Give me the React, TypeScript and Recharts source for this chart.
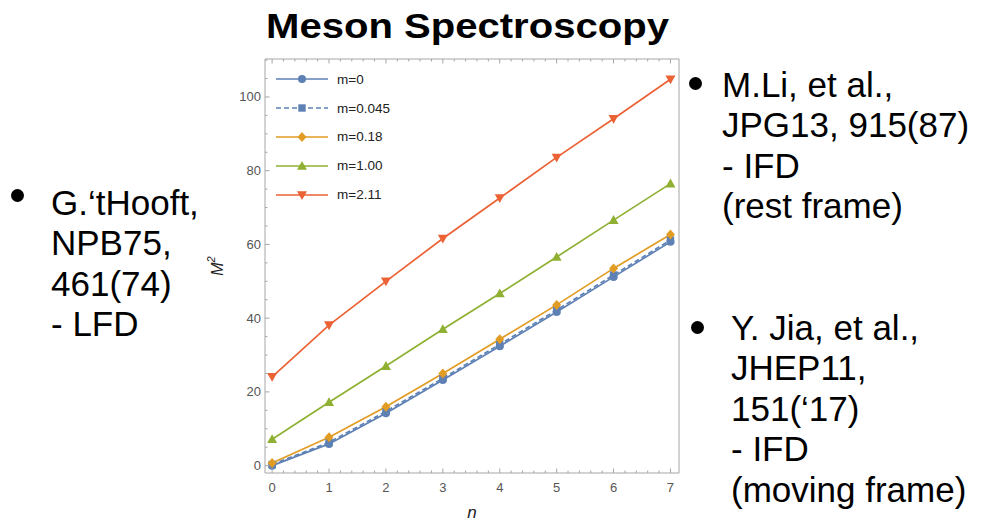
import { LineChart, Line, XAxis, YAxis } from "recharts"

// n (radial excitation) on x, M^2 on y
const nValues = [0, 1, 2, 3, 4, 5, 6, 7]
const m0 = [0.0, 5.9, 14.2, 23.2, 32.4, 41.7, 51.2, 60.7]
const m0045 = [0.3, 6.3, 14.7, 23.7, 32.9, 42.2, 51.7, 61.2]
const m018 = [0.7, 7.7, 16.0, 25.0, 34.3, 43.6, 53.5, 62.7]
const m100 = [7.15, 17.2, 27.0, 37.0, 46.7, 56.6, 66.6, 76.5]
const m211 = [24.1, 38.1, 50.0, 61.6, 72.6, 83.6, 94.1, 104.8]

const xMajorTicks = [0, 1, 2, 3, 4, 5, 6, 7]
const yMajorTicks = [0, 20, 40, 60, 80, 100]
// minor ticks every 0.2 on x and every 5 on y
const xTicks = Array.from({ length: 36 }, (_, i) => Math.round(i * 2) / 10)
const yTicks = Array.from({ length: 23 }, (_, i) => i * 5)

const leftNotes = ["G.\u2018tHooft,", "NPB75,", "461(74)", "- LFD"]
const rightTopNotes = ["M.Li, et al.,", "JPG13, 915(87)", "- IFD", "(rest frame)"]
const rightBottomNotes = ["Y. Jia, et al.,", "JHEP11,", "151(\u201817)", "- IFD", "(moving frame)"]

const series = [
  { key: "m0", name: "m=0", values: m0, color: "#5E81B5", shape: "circle", dashed: false },
  { key: "m0045", name: "m=0.045", values: m0045, color: "#5E81B5", shape: "square", dashed: true },
  { key: "m018", name: "m=0.18", values: m018, color: "#E19C24", shape: "diamond", dashed: false },
  { key: "m100", name: "m=1.00", values: m100, color: "#8FB032", shape: "up", dashed: false },
  { key: "m211", name: "m=2.11", values: m211, color: "#EB6235", shape: "down", dashed: false },
]

const data = nValues.map((n, i) => {
  const row: any = { n }
  series.forEach((s) => (row[s.key] = s.values[i]))
  return row
})

const FRAME = "#a6a6a6"
const TICK_TEXT = "#555"
const FONT = "'Liberation Sans', Arial, sans-serif"

const Marker = ({ shape, cx, cy, color }: any) => {
  if (shape === "circle") return <circle cx={cx} cy={cy} r={4} fill={color} />
  if (shape === "square") return <rect x={cx - 3.7} y={cy - 3.7} width={7.4} height={7.4} fill={color} />
  if (shape === "diamond")
    return <polygon points={`${cx},${cy - 5} ${cx + 4.5},${cy} ${cx},${cy + 5} ${cx - 4.5},${cy}`} fill={color} />
  if (shape === "up")
    return <polygon points={`${cx},${cy - 5} ${cx + 5},${cy + 3.8} ${cx - 5},${cy + 3.8}`} fill={color} />
  return <polygon points={`${cx - 5},${cy - 3.8} ${cx + 5},${cy - 3.8} ${cx},${cy + 5}`} fill={color} />
}

const isMajor = (v: number, majors: number[]) => majors.some((m) => Math.abs(m - v) < 1e-6)

const BottomTick = ({ x, y, payload }: any) => {
  const major = isMajor(payload.value, xMajorTicks)
  const axisY = y - 14
  return (
    <g>
      <line x1={x} x2={x} y1={axisY} y2={axisY - (major ? 4.5 : 2.5)} stroke={FRAME} />
      {major && (
        <text x={x} y={y} textAnchor="middle" dominantBaseline="central" fontSize={13} fill={TICK_TEXT} fontFamily={FONT}>
          {Math.round(payload.value)}
        </text>
      )}
    </g>
  )
}

const TopTick = ({ x, y, payload }: any) => {
  const major = isMajor(payload.value, xMajorTicks)
  return <line x1={x} x2={x} y1={y} y2={y + (major ? 4.5 : 2.5)} stroke={FRAME} />
}

const LeftTick = ({ x, y, payload }: any) => {
  const major = isMajor(payload.value, yMajorTicks)
  const axisX = x + 4
  return (
    <g>
      <line x1={axisX} x2={axisX + (major ? 4.5 : 2.5)} y1={y} y2={y} stroke={FRAME} />
      {major && (
        <text x={x} y={y} textAnchor="end" dominantBaseline="central" fontSize={13} fill={TICK_TEXT} fontFamily={FONT}>
          {payload.value}
        </text>
      )}
    </g>
  )
}

const RightTick = ({ x, y, payload }: any) => {
  const major = isMajor(payload.value, yMajorTicks)
  return <line x1={x} x2={x - (major ? 4.5 : 2.5)} y1={y} y2={y} stroke={FRAME} />
}

const Notes = ({ lines, left, top, bullet }: any) => (
  <>
    <div
      style={{
        position: "absolute",
        left: bullet[0] - 6.5,
        top: bullet[1] - 6.5,
        width: 13,
        height: 13,
        borderRadius: "50%",
        background: "#000",
      }}
    />
    <div
      style={{
        position: "absolute",
        left,
        top,
        fontFamily: FONT,
        fontSize: 35,
        lineHeight: "40.5px",
        color: "#000",
        whiteSpace: "nowrap",
      }}
    >
      {lines.map((l: string) => (
        <div key={l}>{l}</div>
      ))}
    </div>
  </>
)

export default function App() {
  return (
    <div style={{ position: "absolute", left: 0, top: 0, width: 989, height: 524, background: "#fff" }}>
      <LineChart width={989} height={524} data={data} margin={{ top: 58, right: 309, bottom: 21, left: 235 }}>
        <XAxis
          xAxisId={0}
          dataKey="n"
          type="number"
          domain={[-0.125, 7.15]}
          ticks={xTicks}
          interval={0}
          height={30}
          tickSize={0}
          tickMargin={14}
          tickLine={false}
          axisLine={{ stroke: FRAME }}
          tick={(p: any) => <BottomTick {...p} />}
          label={{
            content: ({ viewBox }: any) => (
              <text
                x={viewBox.x + viewBox.width / 2}
                y={viewBox.y + 45}
                textAnchor="middle"
                fontSize={17}
                fontStyle="italic"
                fontFamily={FONT}
                fill="#222"
              >
                n
              </text>
            ),
          }}
        />
        <XAxis
          xAxisId="top"
          orientation="top"
          dataKey="n"
          type="number"
          domain={[-0.125, 7.15]}
          ticks={xTicks}
          interval={0}
          height={1}
          tickSize={0}
          tickMargin={0}
          tickLine={false}
          axisLine={{ stroke: FRAME }}
          tick={(p: any) => <TopTick {...p} />}
        />
        <YAxis
          yAxisId={0}
          type="number"
          domain={[-2, 110.3]}
          ticks={yTicks}
          interval={0}
          width={30}
          tickSize={0}
          tickMargin={4}
          tickLine={false}
          axisLine={{ stroke: FRAME }}
          tick={(p: any) => <LeftTick {...p} />}
          label={{
            content: ({ viewBox }: any) => {
              const cx = viewBox.x - 18
              const cy = viewBox.y + viewBox.height / 2
              return (
                <text
                  transform={`rotate(-90 ${cx} ${cy})`}
                  x={cx}
                  y={cy}
                  textAnchor="middle"
                  dominantBaseline="central"
                  fontSize={16}
                  fontStyle="italic"
                  fontFamily={FONT}
                  fill="#222"
                >
                  M
                  <tspan dy={-6} fontSize={11}>
                    2
                  </tspan>
                </text>
              )
            },
          }}
        />
        <YAxis
          yAxisId="right"
          orientation="right"
          type="number"
          domain={[-2, 110.3]}
          ticks={yTicks}
          interval={0}
          width={1}
          tickSize={0}
          tickMargin={0}
          tickLine={false}
          axisLine={{ stroke: FRAME }}
          tick={(p: any) => <RightTick {...p} />}
        />
        {series.map((s) => (
          <Line
            key={s.key}
            type="linear"
            dataKey={s.key}
            name={s.name}
            stroke={s.color}
            strokeWidth={1.7}
            strokeDasharray={s.dashed ? "5 3" : undefined}
            dot={(p: any) => (
              <g key={`${s.key}-${p.index}`}>
                <Marker shape={s.shape} cx={p.cx} cy={p.cy} color={s.color} />
              </g>
            )}
            activeDot={false}
            isAnimationActive={false}
          />
        ))}
      </LineChart>

      {/* in-plot legend */}
      <div style={{ position: "absolute", left: 274, top: 65 }}>
        {series.map((s) => (
          <div key={s.key} style={{ display: "flex", alignItems: "center", height: 28.8 }}>
            <svg width={56} height={14}>
              <line
                x1={2}
                x2={54}
                y1={7}
                y2={7}
                stroke={s.color}
                strokeWidth={1.7}
                strokeDasharray={s.dashed ? "5 3" : undefined}
              />
              <Marker shape={s.shape} cx={28} cy={7} color={s.color} />
            </svg>
            <span style={{ marginLeft: 7, fontFamily: FONT, fontSize: 13.5, color: "#222" }}>{s.name}</span>
          </div>
        ))}
      </div>

      <svg style={{ position: "absolute", left: 0, top: 0 }} width={989} height={60}>
        <text
          x={266}
          y={38}
          textLength={403}
          lengthAdjust="spacingAndGlyphs"
          fontFamily={FONT}
          fontWeight="bold"
          fontSize={35}
          fill="#000"
        >
          Meson Spectroscopy
        </text>
      </svg>

      <Notes lines={leftNotes} left={51} top={182.5} bullet={[17, 195]} />
      <Notes lines={rightTopNotes} left={722} top={64.5} bullet={[695, 83]} />
      <Notes lines={rightBottomNotes} left={731} top={307.5} bullet={[697, 327]} />
    </div>
  )
}
